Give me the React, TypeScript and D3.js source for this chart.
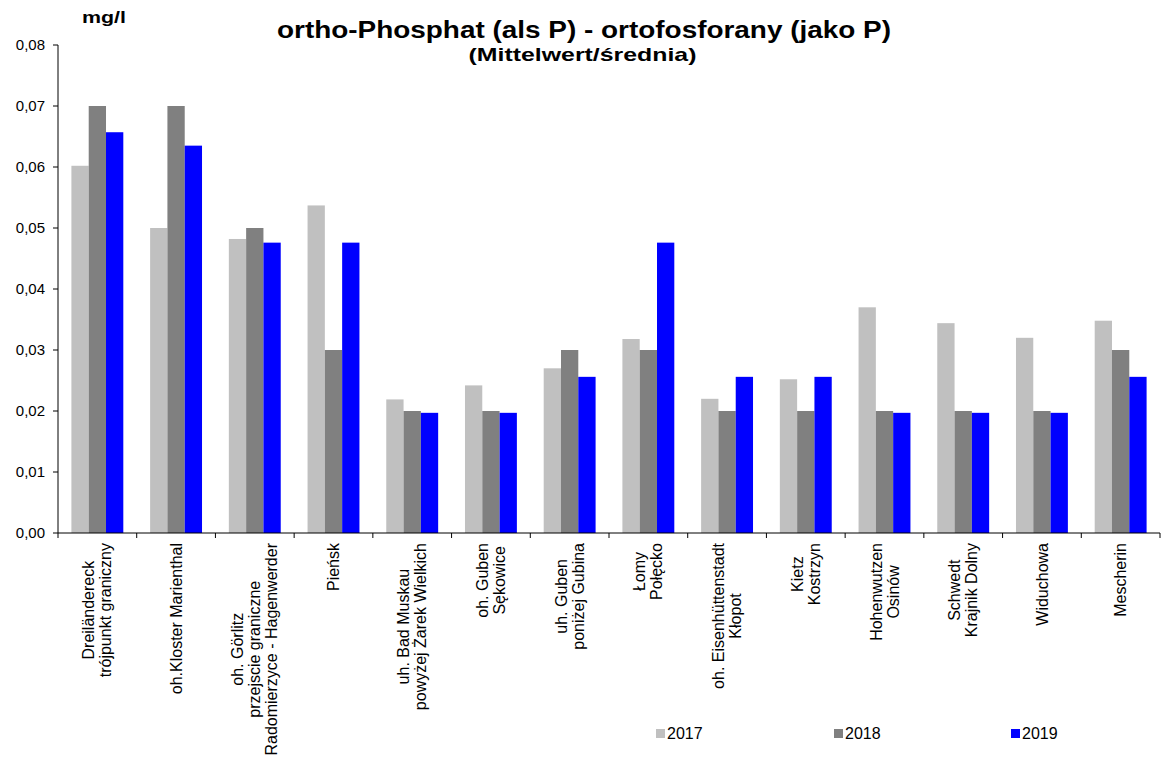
import React from 'react';
import * as d3 from 'd3';

// station labels (one entry per line of the rotated label)
const stations: string[][] = [
  ['Dreiländereck', 'trójpunkt graniczny'],
  ['oh.Kloster Marienthal'],
  ['oh. Görlitz', 'przejscie graniczne', 'Radomierzyce - Hagenwerder'],
  ['Pieńsk'],
  ['uh. Bad Muskau', 'powyżej Żarek Wielkich'],
  ['oh. Guben', 'Sękowice'],
  ['uh. Guben', 'poniżej Gubina'],
  ['Łomy', 'Połęcko'],
  ['oh. Eisenhüttenstadt', 'Kłopot'],
  ['Kietz', 'Kostrzyn'],
  ['Hohenwutzen', 'Osinów'],
  ['Schwedt', 'Krajnik Dolny'],
  ['Widuchowa'],
  ['Mescherin'],
];

const years = ['2017', '2018', '2019'];
const v2017 = [0.0602, 0.05, 0.0482, 0.0537, 0.0219, 0.0242, 0.027, 0.0318, 0.022, 0.0252, 0.037, 0.0344, 0.032, 0.0348];
const v2018 = [0.07, 0.07, 0.05, 0.03, 0.02, 0.02, 0.03, 0.03, 0.02, 0.02, 0.02, 0.02, 0.02, 0.03];
const v2019 = [0.0657, 0.0635, 0.0476, 0.0476, 0.0197, 0.0197, 0.0256, 0.0476, 0.0256, 0.0256, 0.0197, 0.0197, 0.0197, 0.0256];
const yTicks = [0, 0.01, 0.02, 0.03, 0.04, 0.05, 0.06, 0.07, 0.08];

const colors = ['#c0c0c0', '#808080', '#0000ff'];
const FONT = "'Liberation Sans', Arial, sans-serif";

let ctx: CanvasRenderingContext2D | null = null;
const measure = (s: string, size: number) => {
  if (!ctx) ctx = document.createElement('canvas').getContext('2d');
  if (!ctx) return s.length * size * 0.5;
  ctx.font = `${size}px 'Liberation Sans', Arial, sans-serif`;
  return ctx.measureText(s).width;
};

export default function App() {
  const width = 1161;
  const height = 757;
  const left = 58;
  const right = 1160;
  const top = 45;
  const bottom = 533;

  const names = stations.map(s => s.join(' '));
  const series = [v2017, v2018, v2019];

  const x0 = d3.scaleBand<string>().domain(names).range([left, right]).padding(0);
  const x1 = d3.scaleBand<string>().domain(years).range([0, x0.bandwidth()]).paddingInner(0).paddingOuter(0.775);
  const y = d3.scaleLinear().domain([0, 0.08]).range([bottom, top]);
  const fmt = (v: number) => d3.format('.2f')(v).replace('.', ',');

  const labelSize = 16;
  const lineGap = 17;
  const labelTop = 543;

  const legendX = [656, 834, 1011];

  return (
    <svg width={width} height={height} style={{ position: 'absolute', left: 0, top: 0, background: '#fff' }} fontFamily={FONT}>
      <rect x={0} y={0} width={width} height={height} fill="#fff" />

      {/* bars */}
      {names.map((n, i) => (
        <g key={n} transform={`translate(${x0(n)},0)`}>
          {years.map((yr, k) => (
            <rect
              key={yr}
              x={x1(yr)}
              y={y(series[k][i])}
              width={x1.bandwidth()}
              height={bottom - y(series[k][i])}
              fill={colors[k]}
            />
          ))}
        </g>
      ))}

      {/* y axis */}
      <line x1={left} x2={left} y1={top} y2={bottom} stroke="#000" strokeWidth={1} />
      {yTicks.map(t => (
        <g key={t}>
          <line x1={left - 5} x2={left} y1={y(t)} y2={y(t)} stroke="#000" />
          <text x={45} y={y(t)} dy="0.35em" textAnchor="end" fontSize={15} fill="#000">
            {fmt(t)}
          </text>
        </g>
      ))}

      {/* x axis */}
      <line x1={left} x2={right} y1={bottom} y2={bottom} stroke="#000" strokeWidth={1} />
      {names.map((n, i) => (
        <line key={'t' + i} x1={(x0(n) as number) + x0.bandwidth()} x2={(x0(n) as number) + x0.bandwidth()} y1={bottom} y2={bottom + 5} stroke="#000" />
      ))}
      <line x1={left} x2={left} y1={bottom} y2={bottom + 5} stroke="#000" />

      {/* category labels */}
      {stations.map((lines, i) => {
        const cx = (x0(names[i]) as number) + x0.bandwidth() / 2;
        const maxLen = d3.max(lines, l => measure(l, labelSize)) as number;
        const cy = labelTop + maxLen / 2;
        return (
          <g key={'l' + i}>
            {lines.map((l, j) => {
              const lx = cx + (j - (lines.length - 1) / 2) * lineGap;
              return (
                <text
                  key={j}
                  transform={`translate(${lx},${cy}) rotate(-90)`}
                  dy="0.35em"
                  textAnchor="middle"
                  fontSize={labelSize}
                  fill="#000"
                >
                  {l}
                </text>
              );
            })}
          </g>
        );
      })}

      {/* titles */}
      <text x={584} y={38} textAnchor="middle" fontSize={23} fontWeight="bold" fill="#000" textLength={614} lengthAdjust="spacingAndGlyphs">
        ortho-Phosphat (als P) - ortofosforany (jako P)
      </text>
      <text x={582.5} y={61} textAnchor="middle" fontSize={19} fontWeight="bold" fill="#000" textLength={228} lengthAdjust="spacingAndGlyphs">
        (Mittelwert/średnia)
      </text>
      <text x={104} y={23} textAnchor="middle" fontSize={17} fontWeight="bold" fill="#000" textLength={44} lengthAdjust="spacingAndGlyphs">
        mg/l
      </text>

      {/* legend */}
      {years.map((yr, k) => (
        <g key={'lg' + yr}>
          <rect x={legendX[k]} y={729} width={9} height={9} fill={colors[k]} />
          <text x={legendX[k] + 11} y={739} fontSize={16} fill="#000">
            {yr}
          </text>
        </g>
      ))}
    </svg>
  );
}
